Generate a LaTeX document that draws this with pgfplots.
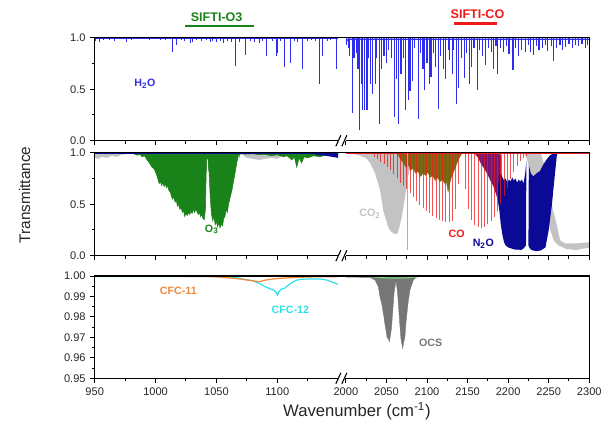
\documentclass[border=0pt]{standalone}
\usepackage{fontspec}
\setmainfont{Liberation Sans}
\usepackage{pgfplots}
\pgfplotsset{compat=1.18}

\definecolor{hwater}{RGB}{45,45,235}
\definecolor{ozone}{RGB}{25,130,25}
\definecolor{ozolive}{RGB}{125,105,20}
\definecolor{cotwo}{RGB}{195,195,195}
\definecolor{comon}{RGB}{238,25,25}
\definecolor{ntwoo}{RGB}{10,10,150}
\definecolor{ntwing}{RGB}{120,20,110}
\definecolor{cfcel}{RGB}{240,135,55}
\definecolor{cfctw}{RGB}{45,225,235}
\definecolor{ocs}{RGB}{118,118,118}
\definecolor{paleg}{RGB}{120,215,120}

\tikzset{lab/.style={font=\bfseries\fontsize{8}{9}\selectfont}}
\pgfplotsset{
  panel/.style={scale only axis, width=182.55pt, anchor=south west,
    axis line style={draw=none}, clip mode=individual,
    tick align=outside, xtick pos=left, ytick pos=left,
    major tick length=3.3pt, minor tick length=2.4pt,
    tick style={black, line width=0.75pt},
    tick label style={font=\fontsize{8.3}{10}\selectfont, text=black!85},
    /pgf/number format/assume math mode=true,
    /pgf/number format/1000 sep={}},
  lseg/.style={panel, xmin=950, xmax=1150, xtick={950,1000,1050,1100},
    minor xtick={975,1025,1075,1125}},
  rseg/.style={panel, xmin=2000, xmax=2300, xtick={2000,2050,...,2300},
    minor xtick={2025,2075,...,2275}, ytick=\empty, minor ytick=\empty},
  tr/.style={height=77.25pt, ymin=0, ymax=1},
  trl/.style={tr, ytick={0,0.5,1}, minor ytick={0.25,0.75},
    yticklabel style={/pgf/number format/.cd, fixed, fixed zerofill, precision=1}},
  spikes/.style={quiver={u=0, v=\thisrow{t}-1}},
}
\newcommand{\lframe}{\draw[line width=0.9pt] ([xshift=5.9pt]rel axis cs:1,1) -- (rel axis cs:0,1) -- (rel axis cs:0,0) -- (rel axis cs:1,0);}
\newcommand{\rframe}{\draw[line width=0.9pt] (rel axis cs:0,1) -- (rel axis cs:1,1) -- (rel axis cs:1,0) -- (rel axis cs:0,0);
  \draw[line width=0.8pt] ([shift={(-7.5pt,-4.1pt)}]rel axis cs:0,0) -- ++(3.75pt,8.2pt);
  \draw[line width=0.8pt] ([shift={(-3pt,-4.1pt)}]rel axis cs:0,0) -- ++(3.75pt,8.2pt);}

\begin{document}
\begin{tikzpicture}
\useasboundingbox (0,0) rectangle (457.5pt,315.75pt);

% ---------------- top row: H2O ----------------
\begin{axis}[lseg, trl, xticklabels={}, at={(71.03pt,210.2pt)}]
\addplot[hwater, line width=0.8pt] coordinates {(950,0.99) (1150,0.99)};
\addplot[hwater, line width=0.7pt, spikes] table[x=x, y expr=1] {
x t
951 0.97
954 0.96
957 0.98
962 0.98
966 0.97
970 0.99
976 0.96
980 0.98
985 0.99
995 0.98
1004 0.98
1008 0.98
1014 0.86
1017 0.93
1021 0.98
1024 0.97
1029 0.95
1030 0.96
1034 0.98
1038 0.97
1042 0.98
1045 0.96
1047 0.97
1050 0.96
1053 0.97
1056 0.95
1059 0.97
1062 0.96
1066 0.73
1069 0.96
1074 0.83
1078 0.97
1081 0.96
1085 0.95
1088 0.97
1091 0.82
1096 0.97
1099 0.82
1100.5 0.85
1103 0.97
1106 0.72
1111 0.75
1114 0.97
1117 0.96
1121 0.70
1125 0.97
1128 0.98
1131 0.97
1135 0.55
1137 0.82
1141 0.97
1144 0.98
1149 0.70
};
\node[lab, text=hwater] at (axis cs:991.3,0.557) {H\textsubscript{2}O};
\node[text=ozone, font=\bfseries\fontsize{9.4}{11}\selectfont] at (axis cs:1050.2,1.198) {SIFTI-O3};
\draw[ozone, line width=1.8pt] (axis cs:1024,1.114) -- (axis cs:1081,1.114);
\lframe
\end{axis}

\begin{axis}[rseg, tr, xticklabels={}, at={(259.4pt,210.2pt)}]
\addplot[hwater, line width=0.8pt] coordinates {(2000,0.95) (2002,0.98) (2006,0.985) (2300,0.985)};
\addplot[hwater, line width=0.85pt, spikes] table[x=x, y expr=1] {
x t
2001 0.93
2003 0.90
2005 0.82
2008 0.27
2010 0.80
2013 0.85
2015 0.70
2017 0.10
2019 0.55
2021 0.30
2023 0.30
2026 0.30
2028 0.80
2030 0.55
2033 0.45
2036 0.55
2038 0.80
2041 0.16
2044 0.70
2047 0.82
2050 0.75
2053 0.88
2056 0.80
2060 0.23
2062 0.60
2065 0.16
2068 0.65
2071 0.80
2074 0.30
2077 0.40
2079 0.48
2082 0.58
2085 0.90
2089 0.21
2092 0.85
2095 0.70
2097 0.49
2100 0.75
2103 0.55
2105 0.62
2108 0.85
2111 0.72
2114 0.31
2117 0.82
2120 0.70
2123 0.60
2126 0.88
2128 0.78
2131 0.65
2133 0.88
2136 0.36
2139 0.51
2142 0.80
2146 0.61
2149 0.85
2152 0.55
2155 0.72
2158 0.90
2162 0.49
2165 0.88
2168 0.82
2172 0.74
2176 0.90
2179 0.86
2182 0.70
2185 0.92
2187 0.65
2191 0.90
2194 0.86
2198 0.92
2201 0.84
2206 0.69
2209 0.90
2213 0.82
2217 0.88
2221 0.86
2225 0.93
2228 0.86
2231 0.83
2235 0.92
2238 0.88
2242 0.90
2246 0.93
2249 0.87
2253 0.92
2256 0.77
2260 0.90
2264 0.93
2267 0.88
2271 0.91
2275 0.94
2279 0.90
2283 0.93
2287 0.92
2291 0.94
2295 0.90
2298 0.93
};
\node[text=comon, font=\bfseries\fontsize{9.4}{11}\selectfont] at (axis cs:2162.2,1.23) {SIFTI-CO};
\draw[comon, line width=1.8pt] (axis cs:2133,1.14) -- (axis cs:2186.6,1.14);
\rframe
\end{axis}

% ---------------- middle row ----------------
\begin{axis}[lseg, trl, xticklabels={}, at={(71.03pt,123.98pt)}]
% CO2
\addplot[fill=cotwo, draw=none] coordinates {
(950,1.0) (950,0.95) (953,0.94) (956,0.96) (960,0.95) (964,0.97) (968,0.96)
(972,0.98) (976,0.985) (980,0.99) (990,0.995) (1000,0.99) (1012,0.985)
(1016,0.97) (1020,0.99) (1070,0.99) (1075,0.95) (1080,0.94) (1085,0.93)
(1090,0.94) (1095,0.95) (1100,0.94) (1104,0.97) (1108,0.99) (1150,1.0)};
\addplot[cotwo!85!black, line width=0.5pt, spikes] table[x=x, y expr=1] {
x t
1040.5 0.90
1042 0.80
1043 0.82
1044.5 0.85
1046 0.84
1047.5 0.86
1049 0.85
1050.5 0.87
1052 0.84
1053.5 0.86
1055 0.85
1056.5 0.88
1058 0.86
1059.5 0.88
1061 0.87
1062.5 0.89
1064 0.88
1065.5 0.90
1067 0.92
1069 0.95
};
% O3
\addplot[fill=ozone, draw=ozone, line width=0.4pt] coordinates {
(978,1.0) (982,0.99) (985,0.975) (987,0.985) (989,0.96) (991,0.97) (993,0.93)
(995,0.90) (997,0.86) (999,0.84) (1001,0.78) (1002,0.74) (1003,0.70) (1004,0.72)
(1005,0.68) (1006,0.71) (1007,0.67) (1008,0.70) (1009,0.66) (1010,0.68) (1011,0.63)
(1012,0.62) (1013,0.58) (1014,0.55) (1015,0.57) (1016,0.52) (1017,0.54) (1018,0.48)
(1019,0.50) (1020,0.45) (1021,0.47) (1022,0.42) (1023,0.44) (1024,0.38) (1025,0.41)
(1026,0.39) (1027,0.42) (1028,0.40) (1029,0.43) (1030,0.41) (1031,0.45) (1032,0.42)
(1033,0.45) (1034,0.43) (1035,0.40) (1036,0.42) (1037,0.38) (1038,0.40) (1039,0.36)
(1040,0.35) (1041,0.45) (1041.8,0.93) (1043,0.95) (1044,0.80) (1045,0.55) (1046,0.40)
(1047,0.34) (1048,0.38) (1049,0.30) (1050,0.33) (1051,0.28) (1052,0.32) (1053,0.27)
(1054,0.31) (1055,0.29) (1056,0.36) (1057,0.38) (1058,0.45) (1059,0.42) (1060,0.50)
(1061,0.55) (1062,0.60) (1063,0.65) (1064,0.72) (1065,0.78) (1066,0.85) (1067,0.92)
(1068,0.97) (1070,0.99) (1075,0.985) (1080,0.99) (1085,0.98) (1090,0.985) (1095,0.97)
(1100,0.98) (1105,0.96) (1108,0.97) (1112,0.93) (1114,0.96) (1116,0.86) (1118,0.95)
(1120,0.90) (1122,0.96) (1125,0.95) (1130,0.97) (1135,0.96) (1140,0.98) (1145,0.97)
(1150,0.98) (1150,1.0)};
% N2O
\addplot[fill=ntwoo, draw=none] coordinates {
(1118,1.0) (1125,0.99) (1130,0.985) (1135,0.975) (1140,0.97) (1145,0.96) (1150,0.95) (1150,1.0)};
\addplot[ntwoo, line width=0.9pt] coordinates {(950,0.995) (1150,0.995)};
\node[lab, text=ozone] at (axis cs:1046.1,0.256) {O\textsubscript{3}};
\lframe
\end{axis}

\begin{axis}[rseg, tr, xticklabels={}, at={(259.4pt,123.98pt)}]
% CO2
\addplot[fill=cotwo, draw=none] coordinates {
(2000,1.0) (2001,0.99) (2010,0.985) (2018,0.97) (2022,0.955) (2026,0.94) (2030,0.90)
(2033,0.85) (2036,0.80) (2039,0.72) (2042,0.64) (2044,0.55) (2046,0.44) (2049,0.36)
(2052,0.28) (2055,0.24) (2058,0.22) (2061,0.21) (2064,0.22) (2066,0.28) (2069,0.38)
(2071,0.48) (2073,0.57) (2075,0.68) (2077,0.78) (2079,0.84) (2082,0.90) (2085,0.94)
(2088,0.97) (2092,0.985) (2100,1.0)};
\addplot[fill=cotwo, draw=none] coordinates {
(2215,1.0) (2240,1.0) (2250,0.75) (2255,0.45) (2260,0.30) (2264,0.15) (2270,0.12)
(2285,0.12) (2300,0.13) (2300,0.075) (2293,0.07) (2284,0.055) (2272,0.065)
(2262,0.10) (2256,0.15) (2252,0.25) (2247,0.41) (2239,0.57) (2231,0.73)
(2226,0.85) (2223.5,0.93) (2220,0.99)};
% O3
\addplot[fill=ozolive, draw=ozolive, line width=0.3pt] coordinates {
(2062,1.0) (2065,0.97) (2068,0.93) (2071,0.90) (2074,0.86) (2077,0.88) (2080,0.83)
(2083,0.85) (2086,0.80) (2089,0.82) (2092,0.77) (2095,0.80) (2098,0.78) (2101,0.81)
(2104,0.76) (2107,0.78) (2110,0.73) (2113,0.76) (2116,0.72) (2119,0.74) (2122,0.70)
(2124,0.72) (2126,0.62) (2128,0.70) (2130,0.76) (2133,0.82) (2136,0.88) (2139,0.94)
(2142,0.98) (2144,1.0)};
% N2O
\addplot[fill=ntwing, draw=none] coordinates {
(2158,1.0) (2163,0.95) (2166,0.90) (2170,0.85) (2174,0.80) (2178,0.73) (2182,0.67)
(2185,0.60) (2188,0.52) (2190,0.45) (2192,0.42) (2192,0.98) (2180,1.0)};
\addplot[fill=ntwoo, draw=none] coordinates {
(2187,0.62) (2189,0.78) (2191,0.80) (2193,0.76) (2195,0.73) (2197,0.75) (2199,0.71)
(2201,0.74) (2203,0.72) (2205,0.76) (2207,0.73) (2209,0.75) (2211,0.71) (2213,0.74)
(2215,0.72) (2217,0.74) (2219,0.70) (2221,0.80) (2222.5,0.92) (2222,0.10) (2219,0.07)
(2216,0.055) (2212,0.06) (2208,0.06) (2204,0.07) (2200,0.08) (2197,0.10) (2195,0.13)
(2193,0.20) (2191,0.30) (2189,0.45) (2187,0.55)};
\addplot[fill=ntwoo, draw=none] coordinates {
(2225,0.10) (2225.5,0.88) (2228,0.80) (2231,0.77) (2235,0.80) (2239,0.82) (2243,0.88)
(2247,0.93) (2251,0.97) (2255,0.99) (2258,1.0) (2261,1.0) (2260,0.97) (2257,0.74)
(2254,0.50) (2250,0.25) (2246,0.08) (2240,0.05) (2235,0.045) (2231,0.05) (2228,0.06)
(2226,0.08)};
% CO
\addplot[comon, opacity=0.75, line width=0.6pt, spikes] table[x=x, y expr=1] {
x t
2035 0.96
2039 0.94
2043 0.91
2047 0.89
2051 0.86
2055 0.83
2059 0.79
2063 0.75
2067 0.71
2071 0.68
2075 0.65
2079 0.61
2083 0.57
2087 0.53
2091 0.49
2095 0.46
2099 0.43
2103 0.41
2107 0.39
2111 0.37
2115 0.35
2119 0.34
2123 0.33
2127 0.33
2131 0.34
2135 0.45
2139 0.70
2147 0.65
2151 0.45
2155 0.35
2159 0.30
2163 0.28
2167 0.27
2171 0.28
2175 0.31
2179 0.34
2183 0.38
2187 0.43
2191 0.50
2195 0.58
2199 0.66
2203 0.74
2207 0.81
2211 0.87
2215 0.92
2219 0.95
2223 0.97
};
\addplot[comon, line width=1.1pt] coordinates {(2000,0.995) (2300,0.995)};
\addplot[cotwo!90!black, line width=0.9pt, spikes] table[x=x, y expr=1] {
x t
2076.2 0.055
};
\node[lab, text=cotwo] at (axis cs:2029.7,0.41) {CO\textsubscript{2}};
\node[lab, text=comon] at (axis cs:2136.5,0.217) {CO};
\node[lab, text=ntwoo] at (axis cs:2169.4,0.12) {N\textsubscript{2}O};
\rframe
\end{axis}

% ---------------- bottom row ----------------
\begin{axis}[lseg, height=76.7pt, ymin=0.95, ymax=1,
  ytick={0.95,0.96,0.97,0.98,0.99,1.00},
  minor ytick={0.955,0.965,0.975,0.985,0.995},
  yticklabel style={/pgf/number format/.cd, fixed, fixed zerofill, precision=2},
  at={(71.03pt,32.03pt)}]
\addplot[cfctw, line width=0.9pt] coordinates {
(950,0.9998) (1060,0.9997) (1066,0.9993) (1072,0.9985) (1080,0.9977) (1086,0.9962)
(1090,0.9948) (1094,0.9938) (1097,0.9932) (1099,0.9920) (1100.3,0.9907) (1101.5,0.9925)
(1103,0.9935) (1106,0.9940) (1109,0.9955) (1112,0.9968) (1116,0.9980) (1120,0.9984)
(1128,0.9986) (1136,0.9985) (1141,0.9980) (1145,0.9970) (1150,0.9960)};
\addplot[cfcel, line width=0.9pt] coordinates {
(950,0.9999) (1040,0.9998) (1052,0.9995) (1062,0.9990) (1070,0.9985) (1078,0.9978)
(1085,0.9972) (1090,0.9980) (1096,0.9985) (1105,0.9990) (1115,0.9993) (1130,0.9996)
(1150,0.9997)};
\node[lab, text=cfcel] at (axis cs:1018.7,0.99282) {CFC-11};
\node[lab, text=cfctw] at (axis cs:1110.8,0.98338) {CFC-12};
\lframe
\end{axis}

\begin{axis}[rseg, height=76.7pt, ymin=0.95, ymax=1, at={(259.4pt,32.03pt)}]
\addplot[fill=ocs, draw=ocs, line width=0.3pt] coordinates {
(2000,1.0) (2000,0.9995) (2030,0.9993) (2036,0.9980) (2040,0.9948) (2042,0.9900)
(2044,0.9867) (2045,0.9850) (2046,0.9820) (2047,0.9800) (2048,0.9769) (2049,0.9745)
(2050,0.9720) (2051,0.9695) (2052,0.9700) (2053.5,0.9679) (2055,0.9710) (2056.4,0.9752)
(2057,0.9790) (2058,0.9840) (2059.3,0.9915) (2061.8,0.9980) (2063.8,0.9915) (2065,0.9850)
(2066.7,0.9752) (2068,0.9690) (2069,0.9670) (2070,0.9647) (2071.5,0.9680) (2072.8,0.9703)
(2074,0.9770) (2075.7,0.9834) (2077,0.9880) (2079,0.9932) (2083.1,0.9980) (2087.3,0.9997)
(2125,0.9997) (2125,1.0)};
\addplot[paleg, line width=0.9pt] coordinates {
(2030,0.9998) (2045,0.9992) (2060,0.9990) (2075,0.9991) (2088,0.9996) (2092,1.0)};
\node[lab, text=ocs] at (axis cs:2104.5,0.9671) {OCS};
\rframe
\end{axis}

\node[rotate=90, text=black!85, font=\fontsize{11.5}{13}\selectfont] at (18.4pt,169.5pt) {Transmittance};
\node[anchor=base, text=black!85, font=\fontsize{12.5}{14}\selectfont] at (267.7pt,3.2pt) {Wavenumber (cm\textsuperscript{-1})};
\end{tikzpicture}
\end{document}
